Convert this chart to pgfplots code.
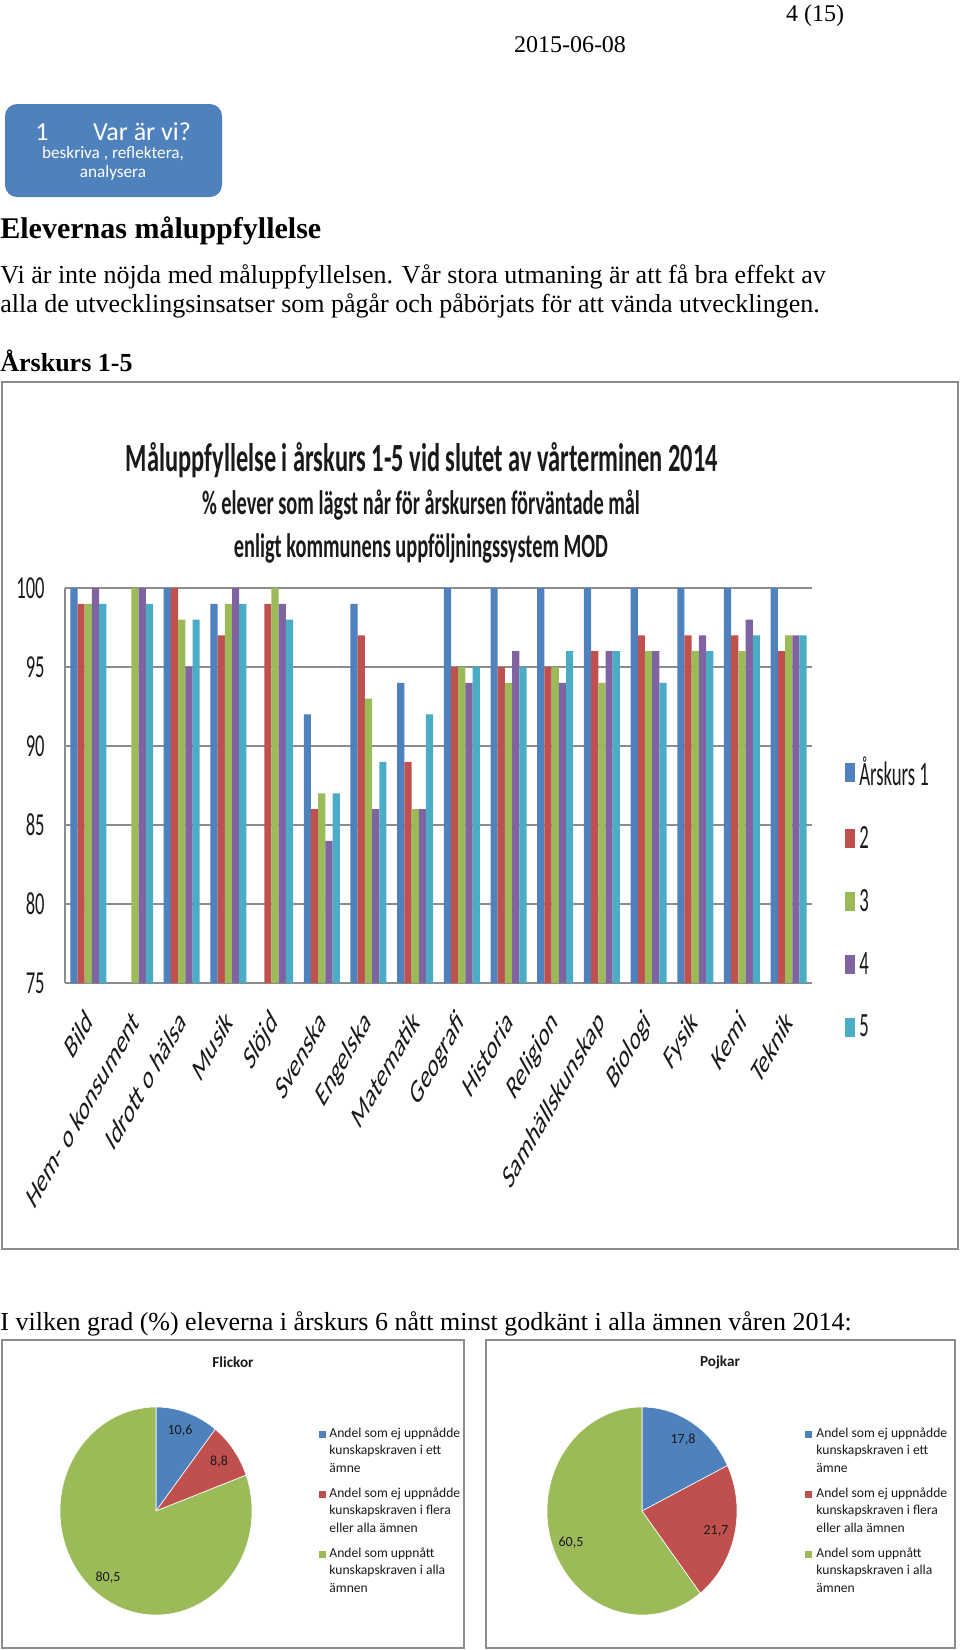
\documentclass[border=0pt]{standalone}
\usepackage{pgfplots}
\usepackage{pgfplotstable}
\pgfplotsset{compat=1.18}
\usepackage{fontspec}
\setmainfont{Liberation Serif}
\newfontfamily\calfont{Carlito}
\definecolor{xa}{HTML}{4F81BD}
\definecolor{xb}{HTML}{C0504D}
\definecolor{xc}{HTML}{9BBB59}
\definecolor{xd}{HTML}{8064A2}
\definecolor{xe}{HTML}{4BACC6}
\definecolor{frm}{HTML}{8C8C8C}
\definecolor{ink}{HTML}{1A1A1A}
\newcommand\sq[1]{\scalebox{0.58}[1]{#1}}
\newcommand\legtxt[1]{\scalebox{0.55}[1]{#1}}
\newcommand\lab[1]{\scalebox{0.57}[1]{\rotatebox{45}{#1}}}

% share of pupils per subject (rows) and year 1-5 (columns a-e)
\pgfplotstableread{
g a b c d e
0 100 99 99 100 99
1 nan nan 100 100 99
2 100 100 98 95 98
3 99 97 99 100 99
4 nan 99 100 99 98
5 92 86 87 84 87
6 99 97 93 86 89
7 94 89 86 86 92
8 100 95 95 94 95
9 100 95 94 96 95
10 100 95 95 94 96
11 100 96 94 96 96
12 100 97 96 96 94
13 100 97 96 97 96
14 100 97 96 98 97
15 100 96 97 97 97
}\marks

\begin{document}
\begin{tikzpicture}[x=0.5pt,y=-0.5pt]
\fill[white] (0,0) rectangle (960,1650);

% page header
\node[anchor=base, inner sep=0] at (815,21) {\fontsize{12}{14}\selectfont 4 (15)};
\node[anchor=base, inner sep=0] at (570,52) {\fontsize{12}{14}\selectfont 2015-06-08};
\fill[xa, rounded corners=6pt] (5,104) rectangle (222,197);
\node[anchor=base, inner sep=0, text=white] at (42,140) {\calfont\fontsize{13}{15}\selectfont 1};
\node[anchor=base, inner sep=0, text=white] at (142,140) {\calfont\fontsize{13}{15}\selectfont Var är vi?};
\node[anchor=base, inner sep=0, text=white] at (113,158) {\calfont\fontsize{8.6}{10}\selectfont beskriva , reflektera,};
\node[anchor=base, inner sep=0, text=white] at (113,177) {\calfont\fontsize{8.6}{10}\selectfont analysera};

\node[anchor=base west, inner sep=0] at (0,238) {\fontsize{15}{17}\selectfont\bfseries Elevernas måluppfyllelse};
\node[anchor=base west, inner sep=0] at (0,283) {\fontsize{13}{15}\selectfont Vi är inte nöjda med måluppfyllelsen. Vår stora utmaning är att få bra effekt av};
\node[anchor=base west, inner sep=0] at (0,312) {\fontsize{13}{15}\selectfont alla de utvecklingsinsatser som pågår och påbörjats för att vända utvecklingen.};
\node[anchor=base west, inner sep=0] at (0,371) {\fontsize{13}{15}\selectfont\bfseries Årskurs 1-5};

% bar chart
\draw[frm, line width=0.6pt] (2,382) rectangle (958,1249);
\node[anchor=base, inner sep=0, text=ink] at (422,471) {\calfont\bfseries\fontsize{20}{22}\selectfont\resizebox{296pt}{\height}{Måluppfyllelse i årskurs 1-5 vid slutet av vårterminen 2014}};
\node[anchor=base, inner sep=0, text=ink] at (421,514) {\calfont\bfseries\fontsize{17}{19}\selectfont\resizebox{219pt}{\height}{\% elever som lägst når för årskursen förväntade mål}};
\node[anchor=base, inner sep=0, text=ink] at (421,557) {\calfont\bfseries\fontsize{17}{19}\selectfont\resizebox{187pt}{\height}{enligt kommunens uppföljningssystem MOD}};

\begin{axis}[
  at={(32.5pt,-491.5pt)}, anchor=south west,
  scale only axis, width=373.5pt, height=197.5pt,
  ybar=0pt, bar width=3.6pt,
  xmin=-0.5, xmax=15.5, ymin=75, ymax=100,
  ytick={75,80,85,90,95,100},
  yticklabels={\sq{75},\sq{80},\sq{85},\sq{90},\sq{95},\sq{100}},
  xtick={0,...,15},
  xticklabels={\lab{Bild},\lab{Hem- o konsument},\lab{Idrott o hälsa},\lab{Musik},\lab{Slöjd},\lab{Svenska},\lab{Engelska},\lab{Matematik},\lab{Geografi},\lab{Historia},\lab{Religion},\lab{Samhällskunskap},\lab{Biologi},\lab{Fysik},\lab{Kemi},\lab{Teknik}},
  ymajorgrids, grid style={frm, line width=0.6pt},
  axis x line*=bottom, axis y line*=left,
  axis line style={-, frm, line width=0.6pt},
  major tick length=0pt,
  yticklabel style={font=\calfont\fontsize{16}{16}\selectfont, text=ink, anchor=east, inner sep=0pt, xshift=-10pt},
  xticklabel style={font=\calfont\fontsize{17}{17}\selectfont, text=ink, anchor=north east, inner sep=0pt, xshift=3pt, yshift=-12pt},
  legend style={at={(1.044,0.585)}, anchor=north west, draw=none, fill=none, inner sep=0pt, row sep=15pt,
    font=\calfont\fontsize{17}{17}\selectfont, text=ink, cells={anchor=west}},
  legend image code/.code={\fill[#1] (0pt,-4.75pt) rectangle (5pt,4.75pt);},
]
\addplot[fill=xa, draw=none] table[x=g, y=a] {\marks};
\addplot[fill=xb, draw=none] table[x=g, y=b] {\marks};
\addplot[fill=xc, draw=none] table[x=g, y=c] {\marks};
\addplot[fill=xd, draw=none] table[x=g, y=d] {\marks};
\addplot[fill=xe, draw=none] table[x=g, y=e] {\marks};
\legend{\legtxt{Årskurs 1},\legtxt{2},\legtxt{3},\legtxt{4},\legtxt{5}}
\end{axis}

\node[anchor=base west, inner sep=0] at (0,1330) {\fontsize{13}{15}\selectfont I vilken grad (\%) eleverna i årskurs 6 nått minst godkänt i alla ämnen våren 2014:};

% pie charts
\draw[frm, line width=0.6pt] (2,1340) rectangle (464,1648);
\draw[frm, line width=0.6pt] (486,1340) rectangle (955,1648);
\node[inner sep=0, text=ink] at (233,1362) {\calfont\bfseries\fontsize{7.6}{9}\selectfont Flickor};
\node[inner sep=0, text=ink] at (720,1362) {\calfont\bfseries\fontsize{7.6}{9}\selectfont Pojkar};

% Flickor: 10,6 / 8,8 / 80,5
\begin{axis}[at={(78pt,-755.5pt)}, anchor=origin, hide axis, clip=false,
  x=48pt, y=52pt, xmin=-1, xmax=1, ymin=-1, ymax=1, data cs=polar]
\addplot[fill=xa, draw=white, line width=0.3pt] coordinates {(0,0) (90,1)} arc[start angle=90, end angle=51.84, x radius=48pt, y radius=52pt] -- cycle;
\addplot[fill=xb, draw=white, line width=0.3pt] coordinates {(0,0) (51.84,1)} arc[start angle=51.84, end angle=20.16, x radius=48pt, y radius=52pt] -- cycle;
\addplot[fill=xc, draw=white, line width=0.3pt] coordinates {(0,0) (20.16,1)} arc[start angle=20.16, end angle=-270, x radius=48pt, y radius=52pt] -- cycle;
\end{axis}

% Pojkar: 17,8 / 21,7 / 60,5
\begin{axis}[at={(321pt,-755.5pt)}, anchor=origin, hide axis, clip=false,
  x=47.5pt, y=52pt, xmin=-1, xmax=1, ymin=-1, ymax=1, data cs=polar]
\addplot[fill=xa, draw=white, line width=0.3pt] coordinates {(0,0) (90,1)} arc[start angle=90, end angle=25.92, x radius=47.5pt, y radius=52pt] -- cycle;
\addplot[fill=xb, draw=white, line width=0.3pt] coordinates {(0,0) (25.92,1)} arc[start angle=25.92, end angle=-52.2, x radius=47.5pt, y radius=52pt] -- cycle;
\addplot[fill=xc, draw=white, line width=0.3pt] coordinates {(0,0) (-52.2,1)} arc[start angle=-52.2, end angle=-270, x radius=47.5pt, y radius=52pt] -- cycle;
\end{axis}

\begin{scope}[every node/.style={inner sep=0, text=ink, font=\calfont\fontsize{7}{8}\selectfont}]
\node at (180,1431) {10,6};
\node at (219,1462) {8,8};
\node at (108,1578) {80,5};
\node at (683,1440) {17,8};
\node at (716,1531) {21,7};
\node at (571,1543) {60,5};
\end{scope}

% pie legends
\foreach \x/\t in {319/329, 805/816}{
  \fill[xa] (\x,1431) rectangle ++(7,7);
  \fill[xb] (\x,1491) rectangle ++(7,7);
  \fill[xc] (\x,1551) rectangle ++(7,7);
  \node[anchor=base west, inner sep=0, text=ink] at (\t,1437) {\parbox[t]{70pt}{\calfont\fontsize{6.8}{8.75}\selectfont Andel som ej uppnådde\\kunskapskraven i ett\\ämne}};
  \node[anchor=base west, inner sep=0, text=ink] at (\t,1497) {\parbox[t]{70pt}{\calfont\fontsize{6.8}{8.75}\selectfont Andel som ej uppnådde\\kunskapskraven i flera\\eller alla ämnen}};
  \node[anchor=base west, inner sep=0, text=ink] at (\t,1557) {\parbox[t]{70pt}{\calfont\fontsize{6.8}{8.75}\selectfont Andel som uppnått\\kunskapskraven i alla\\ämnen}};
}
\end{tikzpicture}
\end{document}
